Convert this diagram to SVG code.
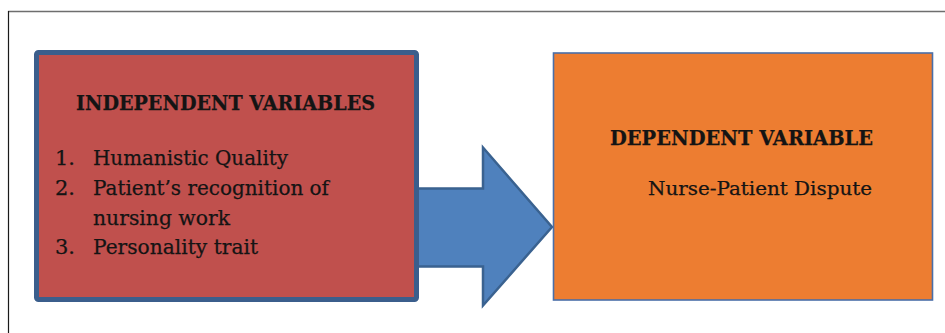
<svg xmlns="http://www.w3.org/2000/svg" width="945" height="333" viewBox="0 0 945 333">
  <style>
    .t { font-family: "DejaVu Serif", "Liberation Serif", serif; fill: #141414; stroke: #141414; stroke-width: 0.25; }
    .b { font-weight: bold; }
  </style>
  <rect x="0" y="0" width="945" height="333" fill="#ffffff"/>
  <g id="frame">
    <line x1="8" y1="11.5" x2="945" y2="11.5" stroke="#6e6e6e" stroke-width="1.6"/>
    <line x1="8.5" y1="11" x2="8.5" y2="333" stroke="#1a1a1a" stroke-width="1.2"/>
  </g>
  <g id="connectors">
    <path d="M416 188.5 L483 188.5 L483 147.5 L552 227 L483 305.5 L483 266.5 L416 266.5 Z" fill="#4f81bd" stroke="#3a6290" stroke-width="2.5" stroke-linejoin="miter"/>
  </g>
  <g id="independent">
    <rect x="36.5" y="52.5" width="380" height="247" rx="2" fill="#c0504d" stroke="#3b5e8c" stroke-width="5"/>
    <text class="t b" x="76" y="110" font-size="21" textLength="299" lengthAdjust="spacingAndGlyphs">INDEPENDENT VARIABLES</text>
    <text class="t" x="55" y="165" font-size="21">1.</text>
    <text class="t" x="93" y="165" font-size="21" textLength="195" lengthAdjust="spacingAndGlyphs">Humanistic Quality</text>
    <text class="t" x="55" y="195" font-size="21">2.</text>
    <text class="t" x="93" y="195" font-size="21" textLength="236" lengthAdjust="spacingAndGlyphs">Patient’s recognition of</text>
    <text class="t" x="93" y="225" font-size="21" textLength="137" lengthAdjust="spacingAndGlyphs">nursing work</text>
    <text class="t" x="55" y="254" font-size="21">3.</text>
    <text class="t" x="93" y="254" font-size="21" textLength="165" lengthAdjust="spacingAndGlyphs">Personality trait</text>
  </g>
  <g id="dependent">
    <rect x="553.5" y="53" width="379" height="247" fill="#ed7d31" stroke="#4a6fa8" stroke-width="1.6"/>
    <text class="t b" x="610" y="145" font-size="21" textLength="263" lengthAdjust="spacingAndGlyphs">DEPENDENT VARIABLE</text>
    <text class="t" x="648" y="195" font-size="18" textLength="224" lengthAdjust="spacingAndGlyphs">Nurse-Patient Dispute</text>
  </g>
</svg>
